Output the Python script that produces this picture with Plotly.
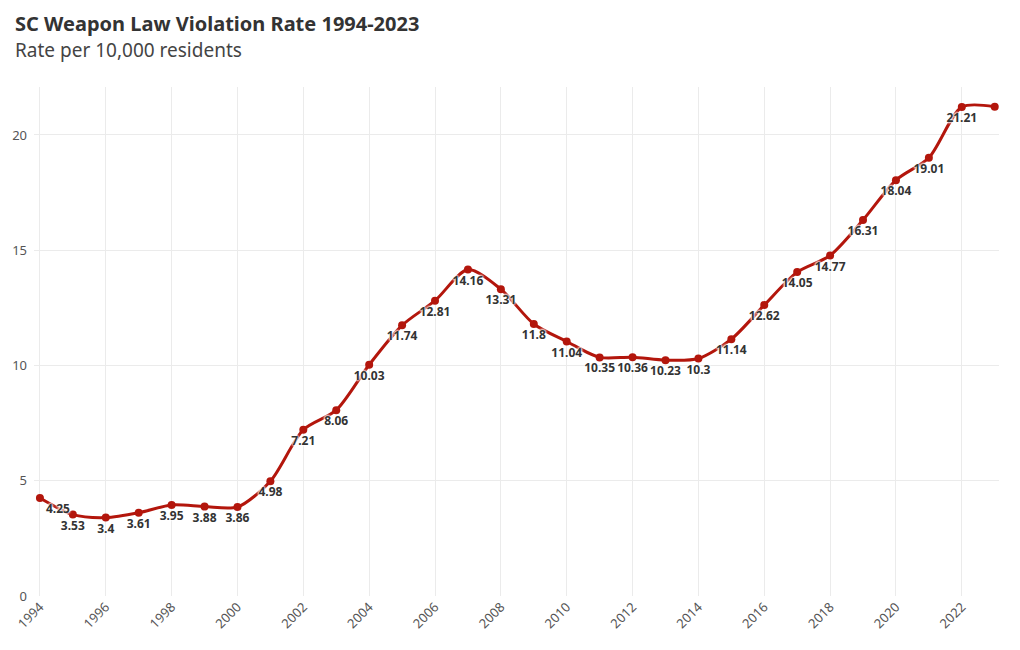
import plotly.graph_objects as go

years = list(range(1994, 2024))
rates = [4.25, 3.53, 3.40, 3.61, 3.95, 3.88, 3.86, 4.98, 7.21, 8.06,
         10.03, 11.74, 12.81, 14.16, 13.31, 11.80, 11.04, 10.35, 10.36, 10.23,
         10.30, 11.14, 12.62, 14.05, 14.77, 16.31, 18.04, 19.01, 21.21, 21.22]
labels = ["4.25", "3.53", "3.4", "3.61", "3.95", "3.88", "3.86", "4.98", "7.21", "8.06",
          "10.03", "11.74", "12.81", "14.16", "13.31", "11.8", "11.04", "10.35", "10.36", "10.23",
          "10.3", "11.14", "12.62", "14.05", "14.77", "16.31", "18.04", "19.01", "21.21", ""]
positions = ["bottom right"] + ["bottom center"] * (len(years) - 1)

FONT = "Noto Sans"
RED = "#b3160c"

fig = go.Figure()
fig.add_trace(go.Scatter(
    x=years, y=rates, mode="lines+markers+text",
    line=dict(color=RED, width=3, shape="spline", smoothing=0.8),
    marker=dict(color=RED, size=8),
    text=labels, textposition=positions,
    textfont=dict(family=FONT, size=12, color="#333333", weight="bold",
                  shadow="white 0px 0px 2px, white 0px 0px 2px, white 0px 0px 3px, white 0px 0px 3px"),
    cliponaxis=False, hoverinfo="x+y", showlegend=False,
))

W, H = 1020, 650
ml, mr, mt, mb = 29, 21, 87, 54
pw, ph = W - ml - mr, H - mt - mb

fig.update_layout(
    width=W, height=H,
    margin=dict(l=ml, r=mr, t=mt, b=mb),
    paper_bgcolor="white", plot_bgcolor="white",
    font=dict(family=FONT, color="#444444"),
    xaxis=dict(range=[1993.82, 2023.13], tickmode="linear", tick0=1994, dtick=2,
               tickangle=-45, showgrid=True, gridcolor="#ebebeb", gridwidth=1,
               zeroline=False, showline=False, ticks="",
               tickfont=dict(family=FONT, size=13, color="#555555")),
    yaxis=dict(range=[0, 22.08], tickvals=[0, 5, 10, 15, 20],
               showgrid=True, gridcolor="#ebebeb", gridwidth=1,
               zeroline=False, showline=False, ticks="", ticklabelstandoff=6,
               tickfont=dict(family=FONT, size=13, color="#555555")),
    annotations=[
        dict(text="<b>SC Weapon Law Violation Rate 1994-2023</b>",
             xref="paper", yref="paper",
             x=(8 - ml) / pw, y=1 + (mt - 8) / ph, xanchor="left", yanchor="top",
             showarrow=False, font=dict(family=FONT, size=20, color="#333333")),
        dict(text="Rate per 10,000 residents",
             xref="paper", yref="paper",
             x=(8 - ml) / pw, y=1 + (mt - 35) / ph, xanchor="left", yanchor="top",
             showarrow=False, font=dict(family=FONT, size=19, color="#444444")),
    ],
)

fig.write_html("out.html")
